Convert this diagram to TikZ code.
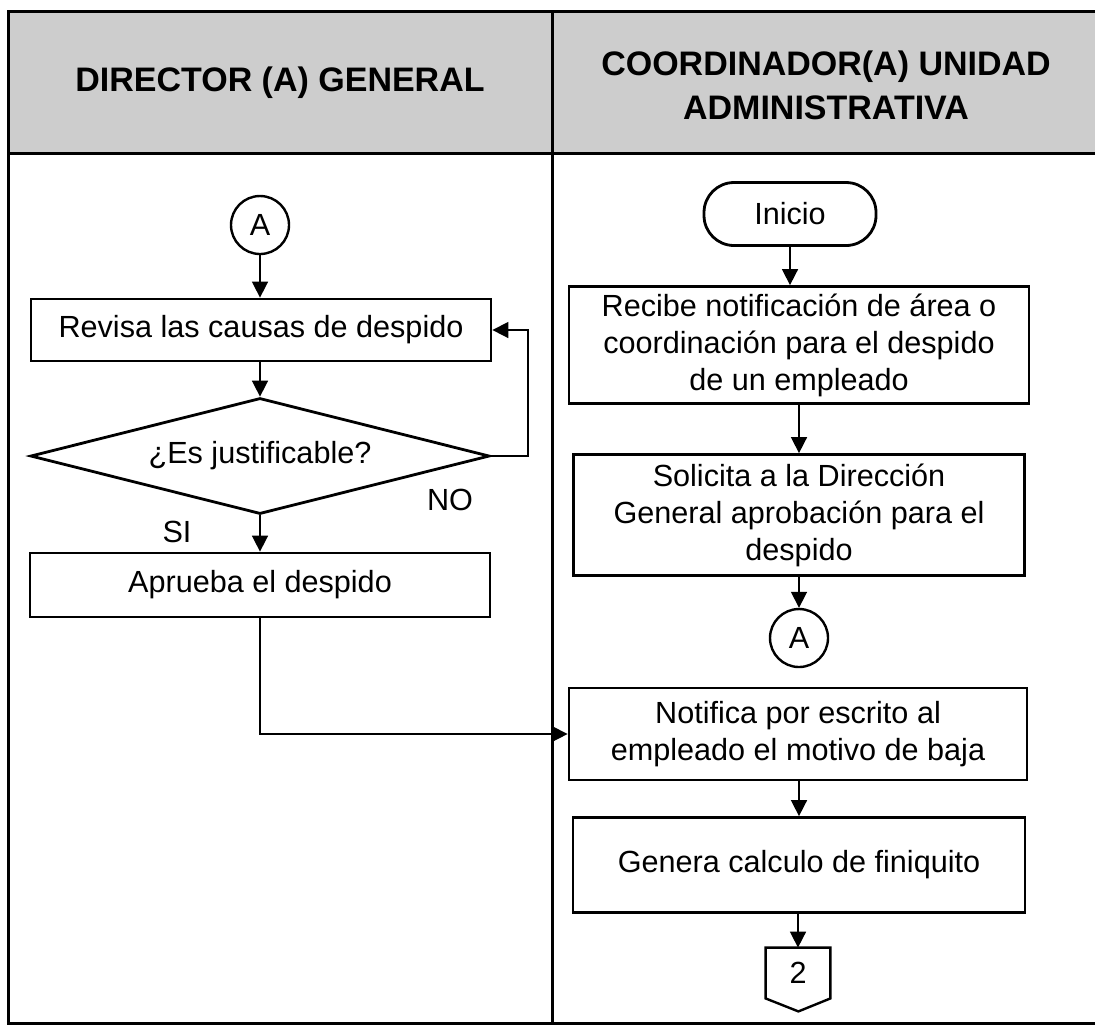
\documentclass[tikz,border=0pt]{standalone}
\usepackage{fontspec}
\setmainfont{Liberation Sans}
\usetikzlibrary{shapes.geometric,arrows.meta,positioning}
\definecolor{grisCabecera}{RGB}{205,205,205}
\tikzset{
  marco/.style={line width=1.5pt, black},
  titulo/.style={align=center, font=\fontsize{17}{22}\selectfont\bfseries},
  caja/.style={rectangle, draw, line width=1.4pt, minimum width=230pt,
               align=center, inner sep=2pt, font=\fontsize{15.3}{18.5}\selectfont},
  rombo/.style={diamond, draw, line width=1.4pt, aspect=4, inner sep=0pt,
                minimum width=229.5pt, minimum height=58pt,
                font=\fontsize{15.3}{18.5}\selectfont},
  terminal/.style={rectangle, draw, line width=1.4pt, rounded corners=15pt,
                   minimum width=86pt, minimum height=31.5pt,
                   font=\fontsize{15.3}{18.5}\selectfont},
  conector/.style={circle, draw, line width=1.2pt, minimum size=29pt,
                   inner sep=0pt, font=\fontsize{15.3}{18.5}\selectfont},
  salida/.style={rectangle, minimum width=32pt, minimum height=25pt,
                 inner sep=0pt, font=\fontsize{15.3}{18.5}\selectfont},
  etiqueta/.style={font=\fontsize{15.3}{18.5}\selectfont},
  flecha/.style={-{Triangle[length=8pt,width=8pt]}, line width=0.8pt},
}
\begin{document}
\begin{tikzpicture}[x=0.5pt,y=-0.5pt]
  \useasboundingbox (0,0) rectangle (1095,1025);
  % carriles
  \fill[grisCabecera] (8,11) rectangle (1095,153);
  \draw[marco] (1095,11) -- (8,11) -- (8,1023) -- (1095,1023);
  \draw[marco] (8,153) -- (1095,153);
  \draw[marco] (552,11) -- (552,1023);
  \node[titulo] (tDir) at (280,83) {DIRECTOR (A) GENERAL};
  \node[titulo] (tCoord) at (826,85) {COORDINADOR(A) UNIDAD\\ADMINISTRATIVA};

  % director general
  \node[conector] (a1) at (260,225) {A};
  \node[caja, minimum height=31pt] (revisa) at (261,330) {Revisa las causas de despido};
  \node[rombo] (justif) at (260,456) {¿Es justificable?};
  \node[caja, minimum height=32pt] (aprueba) at (260,585) {Aprueba el despido};
  \node[etiqueta] (no) at (450,500) {NO};
  \node[etiqueta] (si) at (177,532) {SI};

  % coordinador unidad administrativa
  \node[terminal] (inicio) at (790,214) {Inicio};
  \node[caja, minimum height=58.5pt] (recibe) at (799,345)
    {Recibe notificación de área o\\coordinación para el despido\\de un empleado};
  \node[caja, minimum width=225.5pt, minimum height=60.5pt] (solicita) at (799,515)
    {Solicita a la Dirección\\General aprobación para el\\despido};
  \node[conector] (a2) at (799,638) {A};
  \node[caja, minimum width=229pt, minimum height=46pt] (notifica) at (798,734)
    {Notifica por escrito al\\empleado el motivo de baja};
  \node[caja, minimum width=226pt, minimum height=47.5pt] (genera) at (799,865)
    {Genera calculo de finiquito};
  \node[salida] (pag2) at (798,973) {2};
  \draw[line width=1.2pt] (pag2.north west) -- (pag2.north east) -- (pag2.south east)
    -- ++(-32,13) -- (pag2.south west) -- cycle;

  \draw[flecha] (a1) -- (a1 |- revisa.north);
  \draw[flecha] (revisa.south -| justif) -- (justif);
  \draw[flecha] (justif.east) -- ++(37,0) |- (revisa.east);
  \draw[flecha] (justif) -- (aprueba);
  \draw[flecha] (aprueba.south) |- (notifica.west);
  \draw[flecha] (inicio) -- (inicio |- recibe.north);
  \draw[flecha] (recibe) -- (solicita);
  \draw[flecha] (solicita) -- (a2);
  \draw[flecha] (notifica.south -| genera) -- (genera);
  \draw[flecha] (genera.south -| pag2) -- (pag2);
\end{tikzpicture}
\end{document}
